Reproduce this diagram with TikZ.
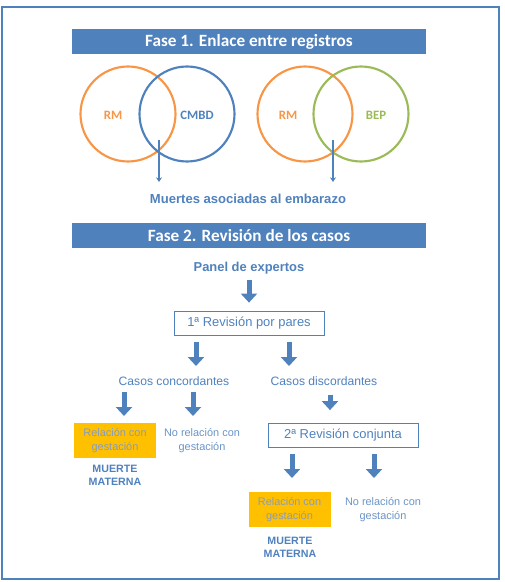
\documentclass[tikz,border=0pt]{standalone}
\usepackage{fontspec}
\setmainfont{Liberation Sans}
\newfontfamily\calibri{Carlito}
\usetikzlibrary{arrows.meta,positioning}
\definecolor{azul}{HTML}{4F81BD}
\definecolor{naranja}{HTML}{F79646}
\definecolor{verde}{HTML}{9BBB59}
\definecolor{ambar}{HTML}{FFC000}
\definecolor{gris}{HTML}{8A9CB8}
\tikzset{
  % bars with the phase titles
  titulo/.style={fill=azul, text=white, inner sep=0pt,
    minimum width=354*0.75pt, minimum height=25*0.75pt,
    font=\calibri\bfseries\fontsize{12.9}{14}\selectfont},
  circulo/.style={circle, line width=1.6pt, minimum size=95*0.75pt, inner sep=0pt},
  etiq/.style={font=\calibri\bfseries\fontsize{9.6}{11}\selectfont},
  flecha/.style={azul, line width=2pt, -{Stealth[length=3.5pt,width=4.5pt]}},
  bloque/.style={azul, line width=5*0.75pt, -{Triangle[length=9*0.75pt,width=16*0.75pt]}},
  texto/.style={text=azul, inner sep=0pt, font=\fontsize{9.1}{11}\selectfont},
  negrita/.style={text=azul, inner sep=0pt, align=center, font=\bfseries\fontsize{8}{9.8}\selectfont},
  caja/.style={draw=azul, line width=0.6pt, text=azul, inner sep=0pt,
    minimum width=150*0.75pt, minimum height=24*0.75pt, font=\fontsize{9.7}{11}\selectfont},
  ambarbox/.style={fill=ambar, text=gris, inner sep=0pt, align=center,
    minimum width=82*0.75pt, minimum height=35*0.75pt, font=\fontsize{8.2}{10.5}\selectfont},
  norel/.style={text=azul!85, inner sep=0pt, align=center, font=\fontsize{8.2}{10.5}\selectfont},
}
\begin{document}
\begin{tikzpicture}[x=0.75pt,y=-0.75pt]
\useasboundingbox (0,0) rectangle (504,582);
\draw[azul, line width=1.5pt] (2,7) rectangle (499,579);
% Fase 1
\node[titulo] (fase1) at (249,41.5) {Fase 1. Enlace entre registros};
\node[circulo, draw=naranja] (rmA) at (128,114) {};
\node[circulo, draw=azul] (cmbd) at (187,114) {};
\node[circulo, draw=naranja] (rmB) at (305,114) {};
\node[circulo, draw=verde] (bep) at (361,114) {};
\node[etiq, text=naranja] (lrmA) at (113,115) {RM};
\node[etiq, text=azul] (lcmbd) at (197,115) {CMBD};
\node[etiq, text=naranja] (lrmB) at (288,115) {RM};
\node[etiq, text=verde] (lbep) at (376,115) {BEP};
\coordinate (iniA) at (159,140);
\coordinate (finA) at (159,182);
\coordinate (iniB) at (333,140);
\coordinate (finB) at (333,182);
\draw[flecha] (iniA) -- (finA);
\draw[flecha] (iniB) -- (finB);
\node[negrita, font=\bfseries\fontsize{9.8}{11}\selectfont] (muertes) at (248,199) {Muertes asociadas al embarazo};
% Fase 2
\node[titulo] (fase2) at (249,235.5) {Fase 2. Revisión de los casos};
\node[negrita, font=\bfseries\fontsize{9.7}{11}\selectfont] (panel) at (249,268) {Panel de expertos};
\node[caja] (rev1) at (249,323) {1ª Revisión por pares};
\draw[bloque, shorten <=6*0.75pt, shorten >=8*0.75pt] (panel) -- (rev1);
\node[texto] (conc) at (174,381) {Casos concordantes};
\node[texto] (disc) at (324,381) {Casos discordantes};
\coordinate (a1) at (196,342); \coordinate (b1) at (196,366);
\coordinate (a2) at (289,342); \coordinate (b2) at (289,366);
\draw[bloque] (a1) -- (b1);
\draw[bloque] (a2) -- (b2);
\node[ambarbox] (rel1) at (115,440.5) {Relación con\\gestación};
\node[norel] (norel1) at (202,441) {No relación con\\gestación};
\node[negrita] (mm1) at (115,475.5) {MUERTE\\MATERNA};
\node[caja] (rev2) at (343,435.5) {2ª Revisión conjunta};
\coordinate (a3) at (124,392); \coordinate (b3) at (124,416);
\coordinate (a4) at (193,392); \coordinate (b4) at (193,416);
\draw[bloque] (a3) -- (b3);
\draw[bloque] (a4) -- (b4);
\draw[bloque, shorten <=9*0.75pt, shorten >=13*0.75pt] (disc.south -| rev2.north) ++(-13,0) coordinate (a5) -- (rev2.north -| a5);
\node[ambarbox] (rel2) at (289.5,509.5) {Relación con\\gestación};
\node[norel] (norel2) at (383,510) {No relación con\\gestación};
\node[negrita] (mm2) at (290,547.5) {MUERTE\\MATERNA};
\coordinate (a6) at (292,454); \coordinate (b6) at (292,478);
\coordinate (a7) at (374,454); \coordinate (b7) at (374,478);
\draw[bloque] (a6) -- (b6);
\draw[bloque] (a7) -- (b7);
\end{tikzpicture}
\end{document}
